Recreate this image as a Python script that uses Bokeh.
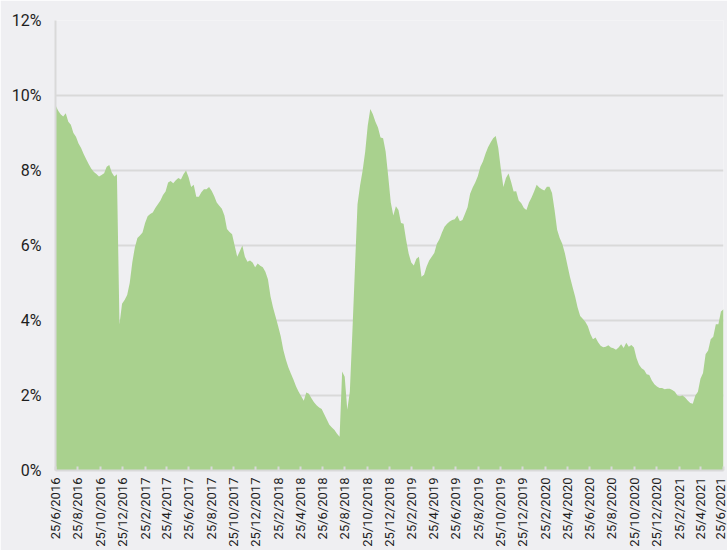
import math
from datetime import datetime
import pandas as pd
from bokeh.plotting import figure
from bokeh.models import ColumnDataSource, FixedTicker, PrintfTickFormatter, Range1d
from bokeh.embed import file_html
from bokeh.resources import INLINE

# ---- data (weekly values, % ) ----
START_DATE = "2016-06-25"
VALUES = [
    9.75, 9.6, 9.5, 9.44, 9.53, 9.3, 9.22, 9.0, 8.9, 8.72,
    8.6, 8.44, 8.3, 8.17, 8.05, 7.96, 7.91, 7.84, 7.88, 7.93,
    8.1, 8.15, 7.95, 7.84, 7.9, 3.9, 4.45, 4.55, 4.68, 5.0,
    5.55, 5.95, 6.2, 6.27, 6.35, 6.6, 6.78, 6.84, 6.88, 7.0,
    7.1, 7.2, 7.35, 7.44, 7.68, 7.72, 7.66, 7.74, 7.8, 7.76,
    7.9, 8.0, 7.82, 7.56, 7.62, 7.3, 7.3, 7.42, 7.5, 7.5,
    7.56, 7.46, 7.32, 7.15, 7.06, 6.98, 6.8, 6.44, 6.36, 6.3,
    6.0, 5.7, 5.85, 6.0, 5.7, 5.57, 5.6, 5.55, 5.42, 5.52,
    5.46, 5.42, 5.3, 5.1, 4.65, 4.35, 4.1, 3.85, 3.58, 3.22,
    2.96, 2.75, 2.58, 2.42, 2.24, 2.1, 1.98, 1.86, 2.08, 2.05,
    1.93, 1.82, 1.74, 1.68, 1.64, 1.5, 1.36, 1.22, 1.15, 1.08,
    0.98, 0.9, 2.64, 2.5, 1.62, 2.1, 3.7, 5.4, 7.1, 7.6,
    8.0, 8.5, 9.2, 9.64, 9.5, 9.3, 9.15, 8.88, 8.86, 8.5,
    7.85, 7.15, 6.8, 7.05, 6.95, 6.6, 6.58, 6.15, 5.78, 5.55,
    5.47, 5.65, 5.7, 5.17, 5.22, 5.44, 5.6, 5.7, 5.8, 6.05,
    6.17, 6.35, 6.5, 6.58, 6.64, 6.68, 6.7, 6.8, 6.65, 6.68,
    6.85, 7.02, 7.38, 7.55, 7.68, 7.85, 8.1, 8.24, 8.45, 8.62,
    8.75, 8.86, 8.92, 8.6, 8.05, 7.56, 7.8, 7.92, 7.7, 7.44,
    7.45, 7.2, 7.13, 7.0, 6.95, 7.15, 7.28, 7.44, 7.62, 7.55,
    7.5, 7.47, 7.57, 7.57, 7.4, 6.95, 6.42, 6.2, 6.05, 5.8,
    5.48, 5.17, 4.9, 4.65, 4.35, 4.12, 4.05, 3.97, 3.85, 3.64,
    3.5, 3.55, 3.42, 3.33, 3.29, 3.3, 3.34, 3.28, 3.26, 3.22,
    3.28, 3.37, 3.27, 3.41, 3.3, 3.35, 3.28, 3.0, 2.82, 2.73,
    2.68, 2.57, 2.55, 2.4, 2.3, 2.24, 2.2, 2.2, 2.17, 2.18,
    2.18, 2.15, 2.1, 2.0, 1.98, 2.0, 1.95, 1.87, 1.8, 1.78,
    2.0, 2.1, 2.45, 2.6, 3.1, 3.2, 3.5, 3.57, 3.9, 3.9,
    4.24, 4.3,
]
TICK_LABELS = [
    "25/6/2016", "25/8/2016", "25/10/2016", "25/12/2016",
    "25/2/2017", "25/4/2017", "25/6/2017", "25/8/2017", "25/10/2017", "25/12/2017",
    "25/2/2018", "25/4/2018", "25/6/2018", "25/8/2018", "25/10/2018", "25/12/2018",
    "25/2/2019", "25/4/2019", "25/6/2019", "25/8/2019", "25/10/2019", "25/12/2019",
    "25/2/2020", "25/4/2020", "25/6/2020", "25/8/2020", "25/10/2020", "25/12/2020",
    "25/2/2021", "25/4/2021", "25/6/2021",
]
Y_TICKS = [0, 2, 4, 6, 8, 10, 12]

dates = pd.date_range(START_DATE, periods=len(VALUES), freq="7D")
source = ColumnDataSource(dict(date=dates, value=VALUES))


def to_ms(dt):
    return (dt - datetime(1970, 1, 1)).total_seconds() * 1000.0


tick_ms = [to_ms(datetime.strptime(s, "%d/%m/%Y")) for s in TICK_LABELS]

BG = "#efeff2"
GRID = "#d9d9d9"

p = figure(
    width=727, height=550,
    x_axis_type="datetime",
    output_backend="svg", toolbar_location=None,
    background_fill_color=BG, border_fill_color=BG,
    min_border_left=55, min_border_right=4, min_border_top=20, min_border_bottom=80,
)
p.outline_line_color = None
p.x_range = Range1d(tick_ms[0], to_ms(dates[-1].to_pydatetime()))
p.y_range = Range1d(0, 12)

p.varea(x="date", y1=0, y2="value", source=source, fill_color="#a9d18e", fill_alpha=1.0)

# grid
p.xgrid.grid_line_color = None
p.ygrid.grid_line_color = GRID
p.ygrid.grid_line_width = 2

# y axis
p.yaxis.ticker = FixedTicker(ticks=Y_TICKS)
p.yaxis.formatter = PrintfTickFormatter(format="%d%%")
p.yaxis.axis_line_color = GRID
p.yaxis.axis_line_width = 2
p.yaxis.major_tick_line_color = None
p.yaxis.major_tick_in = 0
p.yaxis.major_tick_out = 0
p.yaxis.minor_tick_line_color = None
p.yaxis.major_label_text_font = "Roboto"
p.yaxis.major_label_text_font_size = "16px"
p.yaxis.major_label_text_color = "#1e1e1e"
p.yaxis.major_label_standoff = 14

# x axis
p.xaxis.ticker = FixedTicker(ticks=tick_ms)
p.xaxis.major_label_overrides = {t: s for t, s in zip(tick_ms, TICK_LABELS)}
p.xaxis.major_label_orientation = math.pi / 2
p.xaxis.axis_line_color = GRID
p.xaxis.axis_line_width = 2
p.xaxis.major_tick_line_color = GRID
p.xaxis.major_tick_line_width = 2
p.xaxis.major_tick_in = 4
p.xaxis.major_tick_out = 0
p.xaxis.minor_tick_line_color = None
p.xaxis.major_label_text_font = "Roboto"
p.xaxis.major_label_text_font_size = "13px"
p.xaxis.major_label_text_color = "#1e1e1e"
p.xaxis.major_label_standoff = 7

open("out.html", "w").write(file_html(p, INLINE))
